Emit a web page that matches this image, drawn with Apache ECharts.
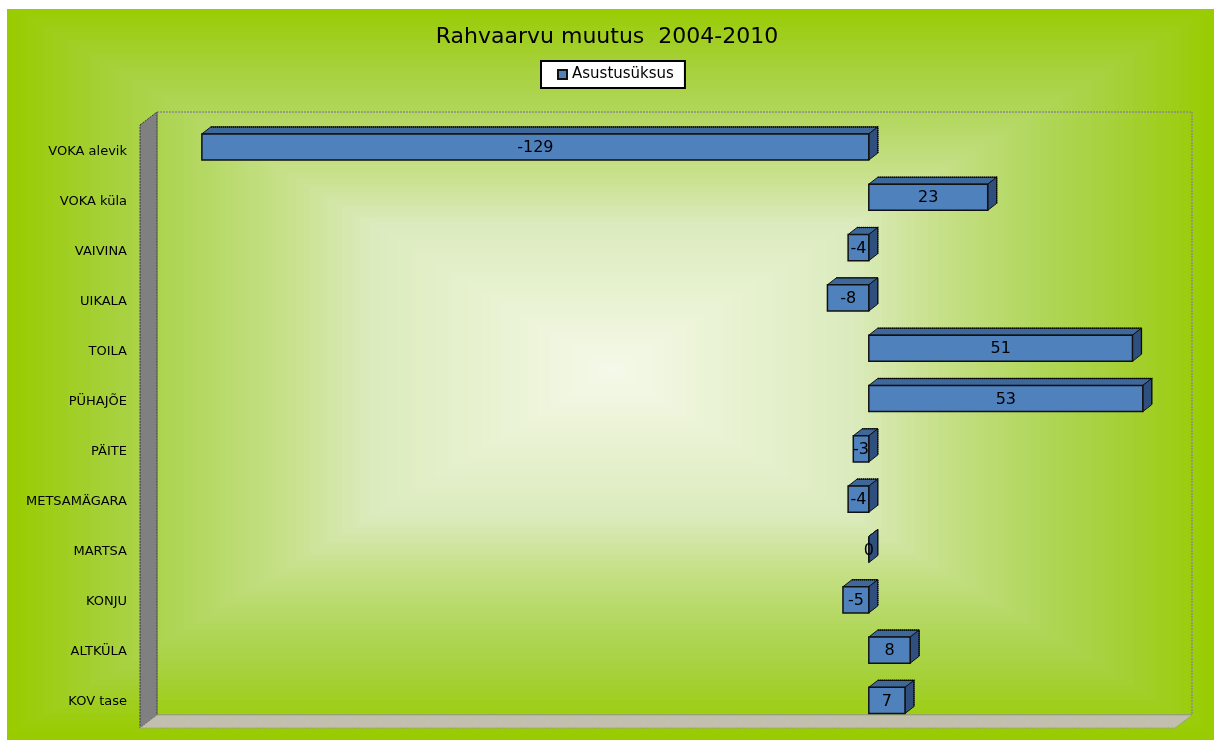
<!DOCTYPE html>
<html>
<head>
<meta charset="utf-8">
<script src="https://cdn.jsdelivr.net/npm/echarts@6/dist/echarts.min.js"></script>
<style>
  html, body { margin: 0; padding: 0; background: #ffffff; }
  #chart { width: 1214px; height: 740px; }
</style>
</head>
<body>
<div id="chart"></div>
<script>
// ---- data ----
const titleText = 'Rahvaarvu muutus  2004-2010';
const seriesName = 'Asustusüksus';
const categories = ['VOKA alevik', 'VOKA küla', 'VAIVINA', 'UIKALA', 'TOILA', 'PÜHAJÕE',
                    'PÄITE', 'METSAMÄGARA', 'MARTSA', 'KONJU', 'ALTKÜLA', 'KOV tase'];
const values = [-129, 23, -4, -8, 51, 53, -3, -4, 0, -5, 8, 7];
const axisMin = -140;
const axisMax = 60;

// ---- layout / style ----
const FONT = '"DejaVu Sans", Verdana, sans-serif';
const DX = 9, DY = -7;            // bar depth offset
const WDX = 17, WDY = -13;        // wall depth offset
const FRONT_LEFT = 140, FRONT_BOTTOM = 728, FRONT_TOP = 125, FRONT_RIGHT = 1175;

// chart-area background: rectangular "from centre" gradient (t = 0 centre, 1 edge)
const BG = { x: 7, y: 9, w: 1207, h: 731 };
const BG_CENTER = [612, 370];
const bgStops = [
  [0.00, [245, 249, 234]],
  [0.20, [233, 242, 210]],
  [0.40, [220, 235, 190]],
  [0.55, [198, 224, 136]],
  [0.70, [178, 215, 94]],
  [0.85, [165, 208, 54]],
  [1.00, [153, 204, 0]]
];
function bgColor(t) {
  for (let i = 1; i < bgStops.length; i++) {
    if (t <= bgStops[i][0]) {
      const a = bgStops[i - 1], b = bgStops[i];
      const f = (t - a[0]) / (b[0] - a[0]);
      const c = a[1].map((v, k) => Math.round(v + (b[1][k] - v) * f));
      return 'rgb(' + c.join(',') + ')';
    }
  }
  return 'rgb(153,204,0)';
}

const chart = echarts.init(document.getElementById('chart'), null, { renderer: 'canvas' });

const graphics = [];
const STEPS = 140;
for (let i = 0; i <= STEPS; i++) {
  const t = 1.08 * (1 - i / STEPS);
  const hw = t * BG.w / 2, hh = t * BG.h / 2;
  const x0 = Math.max(BG.x, BG_CENTER[0] - hw), x1 = Math.min(BG.x + BG.w, BG_CENTER[0] + hw);
  const y0 = Math.max(BG.y, BG_CENTER[1] - hh), y1 = Math.min(BG.y + BG.h, BG_CENTER[1] + hh);
  if (x1 <= x0 || y1 <= y0) continue;
  graphics.push({ type: 'rect', z: -10, silent: true,
    shape: { x: x0, y: y0, width: x1 - x0, height: y1 - y0 },
    style: { fill: bgColor(Math.min(1, t)) } });
}
graphics.push(
  { // back wall outline
    type: 'rect', z: -5, silent: true,
    shape: { x: FRONT_LEFT + WDX, y: FRONT_TOP + WDY, width: FRONT_RIGHT - FRONT_LEFT, height: FRONT_BOTTOM - FRONT_TOP },
    style: { fill: 'none', stroke: '#8a8a8a', lineWidth: 1.5, lineDash: [2, 1] }
  },
  { // left wall
    type: 'polygon', z: -4, silent: true,
    shape: { points: [[FRONT_LEFT, FRONT_TOP], [FRONT_LEFT + WDX, FRONT_TOP + WDY],
                      [FRONT_LEFT + WDX, FRONT_BOTTOM + WDY], [FRONT_LEFT, FRONT_BOTTOM]] },
    style: { fill: '#808080', stroke: '#3a3a3a', lineWidth: 1, lineDash: [2, 1] }
  },
  { // floor
    type: 'polygon', z: -4, silent: true,
    shape: { points: [[FRONT_LEFT, FRONT_BOTTOM], [FRONT_LEFT + WDX, FRONT_BOTTOM + WDY],
                      [FRONT_RIGHT + WDX, FRONT_BOTTOM + WDY], [FRONT_RIGHT, FRONT_BOTTOM]] },
    style: { fill: '#c2bfae', stroke: '#9a9a9a', lineWidth: 1, lineDash: [2, 1] }
  }
);

function renderBar(params, api) {
  const v = api.value(0);
  const c = api.value(1);
  const p0 = api.coord([0, c]);
  const p1 = api.coord([v, c]);
  const band = api.size([0, 1])[1];
  const h = band * 0.52;
  const x0 = Math.min(p0[0], p1[0]);
  const x1 = Math.max(p0[0], p1[0]);
  const yT = p0[1] - h / 2;
  const yB = yT + h;
  return {
    type: 'group',
    children: [
      { type: 'polygon', shape: { points: [[x0, yT], [x0 + DX, yT + DY], [x1 + DX, yT + DY], [x1, yT]] },
        style: { fill: '#3d6899', stroke: '#111', lineWidth: 1 } },
      { type: 'polygon', shape: { points: [[x1, yT], [x1 + DX, yT + DY], [x1 + DX, yB + DY], [x1, yB]] },
        style: { fill: '#2f4f7e', stroke: '#111', lineWidth: 1 } },
      { type: 'polyline', shape: { points: [[x0 + DX, yT + DY], [x1 + DX, yT + DY], [x1 + DX, yB + DY]] },
        style: { fill: 'none', stroke: '#000', lineWidth: 1.5, lineDash: [1, 1] } },
      { type: 'rect', shape: { x: x0, y: yT, width: x1 - x0, height: h },
        style: { fill: '#4f81bd', stroke: '#111', lineWidth: 1.5 } },
      { type: 'text', z2: 10,
        style: { text: String(v), x: (x0 + x1) / 2, y: (yT + yB) / 2 + 1, align: 'center', verticalAlign: 'middle',
                 fill: '#000', font: '16px ' + FONT } }
    ]
  };
}

const option = {
  backgroundColor: '#ffffff',
  animation: false,
  graphic: graphics,
  title: {
    text: titleText, left: 'center', top: 26, padding: 0,
    textStyle: { fontFamily: FONT, fontSize: 22, fontWeight: 'normal', color: '#000' }
  },
  legend: {
    left: 541, top: 61, padding: [6, 11, 6, 16],
    backgroundColor: '#ffffff', borderColor: '#000', borderWidth: 2,
    itemWidth: 9, itemHeight: 9,
    data: [{ name: seriesName, icon: 'rect' }],
    textStyle: { fontFamily: FONT, fontSize: 15, color: '#000' }
  },
  grid: [
    { left: 145, top: 121.8, width: 1034, height: 603.8, containLabel: false },
    { left: 145, top: 127, width: 1034, height: 600, containLabel: false }
  ],
  xAxis: [
    { type: 'value', gridIndex: 0, min: axisMin, max: axisMax, show: false },
    { type: 'value', gridIndex: 1, min: axisMin, max: axisMax, show: false }
  ],
  yAxis: [
    { type: 'category', gridIndex: 0, data: categories, inverse: true, show: false },
    { type: 'category', gridIndex: 1, data: categories, inverse: true,
      axisLine: { show: false }, axisTick: { show: false }, splitLine: { show: false },
      axisLabel: { margin: 18, fontFamily: FONT, fontSize: 13, color: '#000' } }
  ],
  series: [{
    name: seriesName,
    type: 'custom',
    xAxisIndex: 0, yAxisIndex: 0,
    renderItem: renderBar,
    itemStyle: { color: '#4f81bd', borderColor: '#111', borderWidth: 1 },
    encode: { x: 0, y: 1 },
    data: values.map((v, i) => [v, i])
  }]
};
chart.setOption(option);
</script>
</body>
</html>
